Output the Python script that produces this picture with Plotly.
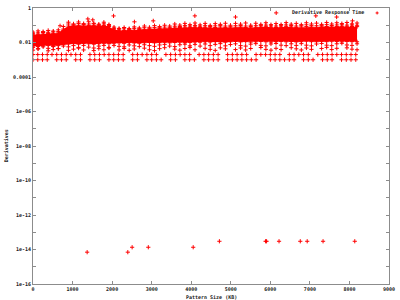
import plotly.graph_objects as go

# ---- data ----
cloud_x = [0, 128, 256, 384, 512, 640, 768, 896, 1024, 1152, 1280, 1408, 1536, 1664, 1792, 1920,
           2048, 2176, 2304, 2432, 2560, 2688, 2816, 2944, 3072, 3200, 3328, 3456, 3584, 3712, 3840, 3968,
           4096, 4224, 4352, 4480, 4608, 4736, 4864, 4992, 5120, 5248, 5376, 5504, 5632, 5760, 5888, 6016,
           6144, 6272, 6400, 6528, 6656, 6784, 6912, 7040, 7168, 7296, 7424, 7552, 7680, 7808, 7936, 8064,
           8192]

core_hi = [0.028, 0.030, 0.031, 0.033, 0.034, 0.036, 0.060, 0.090,
           0.095, 0.100, 0.092, 0.098, 0.100, 0.094, 0.098, 0.085,
           0.055, 0.052, 0.050, 0.054, 0.052, 0.056, 0.058, 0.057,
           0.060, 0.064, 0.062, 0.067, 0.070, 0.074, 0.078, 0.076,
           0.080, 0.074, 0.077, 0.071, 0.074, 0.079, 0.075, 0.072,
           0.077, 0.080, 0.074, 0.071, 0.076, 0.079, 0.082, 0.077,
           0.074, 0.079, 0.083, 0.080, 0.075, 0.079, 0.084, 0.080,
           0.077, 0.082, 0.085, 0.080, 0.084, 0.087, 0.082, 0.085,
           0.083]

core_lo = [0.0062, 0.0058, 0.0064, 0.0068, 0.0062, 0.0066, 0.0075, 0.0082,
           0.0085, 0.0080, 0.0088, 0.0084, 0.0080, 0.0086, 0.0090, 0.0085,
           0.0092, 0.0095, 0.0090, 0.0098, 0.0094, 0.0090, 0.0096, 0.0100,
           0.0095, 0.0098, 0.0102, 0.0096, 0.0100, 0.0105, 0.0098, 0.0102,
           0.0108, 0.0104, 0.0110, 0.0106, 0.0112, 0.0108, 0.0104, 0.0110,
           0.0114, 0.0108, 0.0112, 0.0106, 0.0110, 0.0115, 0.0110, 0.0106,
           0.0112, 0.0116, 0.0110, 0.0114, 0.0108, 0.0112, 0.0118, 0.0112,
           0.0110, 0.0116, 0.0112, 0.0118, 0.0114, 0.0110, 0.0116, 0.0112,
           0.0110]

cloud_top = [0.040, 0.047, 0.043, 0.050, 0.046, 0.054, 0.050, 0.150,
             0.120, 0.155, 0.125, 0.160, 0.130, 0.115, 0.150, 0.110,
             0.078, 0.066, 0.074, 0.064, 0.080, 0.070, 0.090, 0.076,
             0.095, 0.084, 0.100, 0.090, 0.118, 0.102, 0.128, 0.108,
             0.135, 0.105, 0.128, 0.098, 0.125, 0.112, 0.130, 0.100,
             0.128, 0.115, 0.135, 0.100, 0.130, 0.112, 0.140, 0.108,
             0.125, 0.110, 0.142, 0.115, 0.128, 0.108, 0.140, 0.118,
             0.132, 0.112, 0.145, 0.118, 0.140, 0.125, 0.145, 0.120,
             0.135]

cloud_mid = [0.034, 0.036, 0.038, 0.039, 0.041, 0.043, 0.085, 0.118,
             0.108, 0.125, 0.110, 0.118, 0.122, 0.105, 0.120, 0.098,
             0.066, 0.060, 0.062, 0.059, 0.066, 0.063, 0.072, 0.066,
             0.075, 0.072, 0.078, 0.076, 0.088, 0.085, 0.095, 0.090,
             0.098, 0.088, 0.094, 0.085, 0.092, 0.095, 0.090, 0.086,
             0.094, 0.096, 0.090, 0.085, 0.094, 0.095, 0.102, 0.092,
             0.090, 0.094, 0.104, 0.096, 0.090, 0.094, 0.106, 0.098,
             0.094, 0.098, 0.108, 0.097, 0.104, 0.106, 0.102, 0.103,
             0.100]

sparse_a = [0.0052, 0.0044, 0.0056, 0.0046, 0.0058, 0.0045, 0.0062, 0.0056,
            0.0066, 0.0052, 0.0068, 0.0054, 0.0048, 0.0062, 0.0068, 0.0052,
            0.0068, 0.0060, 0.0056, 0.0072, 0.0064, 0.0058, 0.0074, 0.0066,
            0.0060, 0.0072, 0.0078, 0.0062, 0.0058, 0.0074, 0.0080, 0.0064,
            0.0078, 0.0062, 0.0082, 0.0066, 0.0078, 0.0086, 0.0064, 0.0076,
            0.0084, 0.0066, 0.0062, 0.0080, 0.0086, 0.0068, 0.0064, 0.0082,
            0.0088, 0.0070, 0.0066, 0.0084, 0.0068, 0.0086, 0.0070, 0.0064,
            0.0082, 0.0088, 0.0070, 0.0066, 0.0084, 0.0090, 0.0072, 0.0068,
            0.0084]

sparse_b = [0.0036, 0.0042, None, 0.0033, 0.0039, 0.0044, None, 0.0035,
            0.0041, 0.0047, 0.0037, None, 0.0034, 0.0044, 0.0038, 0.0048,
            None, 0.0037, 0.0045, 0.0035, 0.0042, None, 0.0047, 0.0038,
            0.0034, 0.0044, 0.0050, None, 0.0041, 0.0036, 0.0045, 0.0052,
            0.0038, None, 0.0046, 0.0040, 0.0035, 0.0049, 0.0043, None,
            0.0039, 0.0048, 0.0037, 0.0045, None, 0.0051, 0.0040, 0.0036,
            0.0046, 0.0039, None, 0.0050, 0.0043, 0.0037, 0.0048, 0.0040,
            None, 0.0045, 0.0052, 0.0039, 0.0046, None, 0.0049, 0.0041,
            0.0038]

row2_value = 0.002
row2_x = [0, 120, 240, 360, 480, 600, 720, 840, 960, 1080, 1200,
          1440, 1560, 1680, 1800, 1920, 2040, 2160, 2280,
          2520, 2640, 2760, 2880, 3000, 3120,
          3360, 3480, 3600, 3720, 3840, 3960,
          4200, 4320, 4440, 4560, 4680,
          4920, 5040, 5160, 5280, 5400,
          5640, 5760, 5880, 6000, 6120, 6240,
          6480, 6600, 6720, 6840, 6960,
          7200, 7320, 7440, 7560, 7680, 7800, 7920, 8040, 8160]

row1_value = 0.001
row1_x = [0, 120, 240, 360, 600, 720, 840, 1080, 1200, 1440, 1560, 1680,
          1920, 2040, 2160, 2280, 2520, 2640, 2880, 3000, 3120, 3240,
          3480, 3600, 3840, 3960, 4080, 4320, 4440, 4560, 4680,
          4920, 5040, 5160, 5280, 5400, 5520, 5640, 6000, 6120, 6240,
          6360, 6480, 6600, 6840, 6960, 7080, 7320, 7440, 7560,
          7800, 7920, 8040, 8160]

outlier_x = [684, 1386, 1511, 2037, 2564, 3040, 4092, 5120, 6148, 7150, 7676, 8077]
outlier_y = [0.093, 0.233, 0.205, 0.348, 0.158, 0.18, 0.35, 0.30, 0.52, 0.35, 0.30, 0.18]

low_x = [1369, 2397, 2506, 2915, 4050, 4712, 5880, 5905, 6220, 6757, 6932, 7333, 8135]
low_y = [7e-15, 7e-15, 1.35e-14, 1.35e-14, 1.35e-14, 3e-14, 3e-14, 3e-14, 3e-14, 3e-14, 3e-14, 3e-14, 3e-14]

y_tickvals = [1, 1e-2, 1e-4, 1e-6, 1e-8, 1e-10, 1e-12, 1e-14, 1e-16]
y_ticktext = ["1", "0.01", "0.0001", "1e-06", "1e-08", "1e-10", "1e-12", "1e-14", "1e-16"]
y_minor = [1e-1, 1e-3, 1e-5, 1e-7, 1e-9, 1e-11, 1e-13, 1e-15]
x_tickvals = [0, 1000, 2000, 3000, 4000, 5000, 6000, 7000, 8000, 9000]

# ---- styling ----
RED = "#ff0000"
GRAY = "#8c8c8c"
FONT = dict(family="DejaVu Sans Mono", size=5, color="#222222", weight="bold")
mk = dict(symbol="cross-thin-open", size=3, line=dict(width=1, color=RED), color=RED)

fig = go.Figure()
fig.add_trace(go.Scatter(x=cloud_x, y=core_lo, mode="lines", line=dict(width=0, color=RED),
                         showlegend=False, hoverinfo="skip"))
fig.add_trace(go.Scatter(x=cloud_x, y=core_hi, mode="lines", line=dict(width=0, color=RED),
                         fill="tonexty", fillcolor=RED, showlegend=False, hoverinfo="skip"))
for xs, ys in [(cloud_x, core_hi), (cloud_x, core_lo), (cloud_x, cloud_mid), (cloud_x, cloud_top),
               (cloud_x, sparse_a), (cloud_x, sparse_b),
               (row2_x, [row2_value] * len(row2_x)), (row1_x, [row1_value] * len(row1_x)),
               (outlier_x, outlier_y), (low_x, low_y)]:
    fig.add_trace(go.Scatter(x=xs, y=ys, mode="markers", marker=mk, showlegend=False,
                             name="Derivative Response Time"))

fig.update_layout(
    width=400, height=300,
    margin=dict(l=33, r=8, t=5, b=16),
    paper_bgcolor="white", plot_bgcolor="white",
    showlegend=False,
    font=FONT,
)
fig.update_xaxes(range=[0, 9000], tickvals=x_tickvals, ticks="inside", ticklen=3, tickcolor=GRAY,
                 showline=True, linecolor=GRAY, linewidth=1, mirror="ticks",
                 showgrid=False, zeroline=False, tickfont=FONT)
fig.update_yaxes(type="log", range=[-16, 0], tickvals=y_tickvals, ticktext=y_ticktext,
                 ticks="inside", ticklen=3, tickcolor=GRAY,
                 minor=dict(tickvals=y_minor, ticks="inside", ticklen=3, tickcolor=GRAY),
                 showline=True, linecolor=GRAY, linewidth=1, mirror="ticks",
                 showgrid=False, zeroline=False, tickfont=FONT)

fig.add_annotation(text="Pattern Size (KB)", xref="paper", yref="paper", x=0.5, y=-0.047,
                   showarrow=False, font=FONT, xanchor="center", yanchor="middle")
fig.add_annotation(text="Derivatives", xref="paper", yref="paper", x=-0.075, y=0.5,
                   showarrow=False, font=FONT, textangle=-90, xanchor="center", yanchor="middle")
fig.add_annotation(text="Derivative Response Time", xref="paper", yref="paper", x=0.936, y=0.982,
                   showarrow=False, font=FONT, xanchor="right", yanchor="middle")
# legend sample marker
fig.add_shape(type="line", xref="paper", yref="paper", x0=0.9624, x1=0.9708, y0=0.982, y1=0.982,
              line=dict(color=RED, width=1))
fig.add_shape(type="line", xref="paper", yref="paper", x0=0.9666, x1=0.9666, y0=0.9766, y1=0.9874,
              line=dict(color=RED, width=1))

fig.write_html("out.html")
